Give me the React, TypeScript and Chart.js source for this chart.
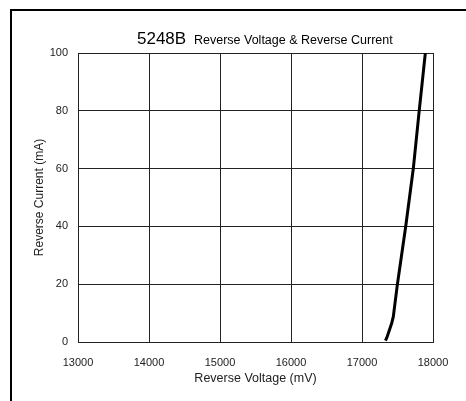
import React, { useEffect, useRef } from "react";
import { Chart, registerables } from "chart.js";

Chart.register(...registerables);

const voltage = [17330, 17348, 17371, 17418, 17441, 17497, 17615, 17723, 17807, 17892];
const current = [0.5, 1.4, 3, 6.5, 8.75, 19.7, 39.9, 60.1, 80.3, 100];
const xTicks = [13000, 14000, 15000, 16000, 17000, 18000];
const yTicks = [0, 20, 40, 60, 80, 100];
const titleMain = "5248B";
const titleSub = "Reverse Voltage & Reverse Current";
const xTitle = "Reverse Voltage (mV)";
const yTitle = "Reverse Current (mA)";

const FONT = "'Liberation Sans', Arial, sans-serif";

const framePlugin = {
  id: "frameAndTitle",
  afterDraw(chart: any) {
    const ctx = chart.ctx;
    ctx.save();
    ctx.strokeStyle = "#000";
    ctx.lineWidth = 2;
    ctx.beginPath();
    ctx.moveTo(11, 401);
    ctx.lineTo(11, 10);
    ctx.lineTo(466, 10);
    ctx.stroke();
    ctx.fillStyle = "#000";
    ctx.textBaseline = "alphabetic";
    ctx.font = `17px ${FONT}`;
    ctx.fillText(titleMain, 137, 44);
    ctx.font = `12.5px ${FONT}`;
    ctx.fillText(titleSub, 194, 44);
    ctx.restore();
  },
};

export default function App() {
  const ref = useRef<HTMLCanvasElement>(null);
  useEffect(() => {
    if (!ref.current) return;
    const chart = new Chart(ref.current, {
      type: "line",
      data: {
        datasets: [
          {
            data: voltage.map((v, i) => ({ x: v, y: current[i] })),
            borderColor: "#000",
            borderWidth: 3,
            pointRadius: 0,
            tension: 0,
            fill: false,
          },
        ],
      },
      options: {
        animation: false,
        responsive: false,
        layout: { padding: { left: 20, right: 33, top: 53, bottom: 9 } },
        plugins: { legend: { display: false }, tooltip: { enabled: false }, title: { display: false } },
        scales: {
          x: {
            type: "linear",
            min: 13000,
            max: 18000,
            afterBuildTicks: (s: any) => {
              s.ticks = xTicks.map((v) => ({ value: v }));
            },
            afterFit: (s: any) => {
              s.height = 50;
            },
            ticks: {
              color: "#222",
              font: { family: FONT, size: 11 },
              padding: 14,
              maxRotation: 0,
              callback: (v: any) => String(v),
            },
            grid: { color: "#222", lineWidth: 1, drawTicks: false },
            border: { color: "#222", width: 1 },
            title: {
              display: true,
              text: xTitle,
              color: "#222",
              font: { family: FONT, size: 12.5 },
              padding: { top: 2, bottom: 6 },
            },
          },
          y: {
            type: "linear",
            min: 0,
            max: 100,
            afterBuildTicks: (s: any) => {
              s.ticks = yTicks.map((v) => ({ value: v }));
            },
            afterFit: (s: any) => {
              s.width = 58;
            },
            ticks: {
              color: "#222",
              font: { family: FONT, size: 11 },
              padding: 10,
            },
            grid: { color: "#222", lineWidth: 1, drawTicks: false },
            border: { color: "#222", width: 1 },
            title: {
              display: true,
              text: yTitle,
              color: "#222",
              font: { family: FONT, size: 12 },
              padding: { top: 12, bottom: 0 },
            },
          },
        },
      },
      plugins: [framePlugin],
    } as any);
    return () => chart.destroy();
  }, []);
  return (
    <div style={{ position: "absolute", left: 0, top: 0, width: 466, height: 401, background: "#fff" }}>
      <canvas ref={ref} width={466} height={401} style={{ display: "block" }} />
    </div>
  );
}
